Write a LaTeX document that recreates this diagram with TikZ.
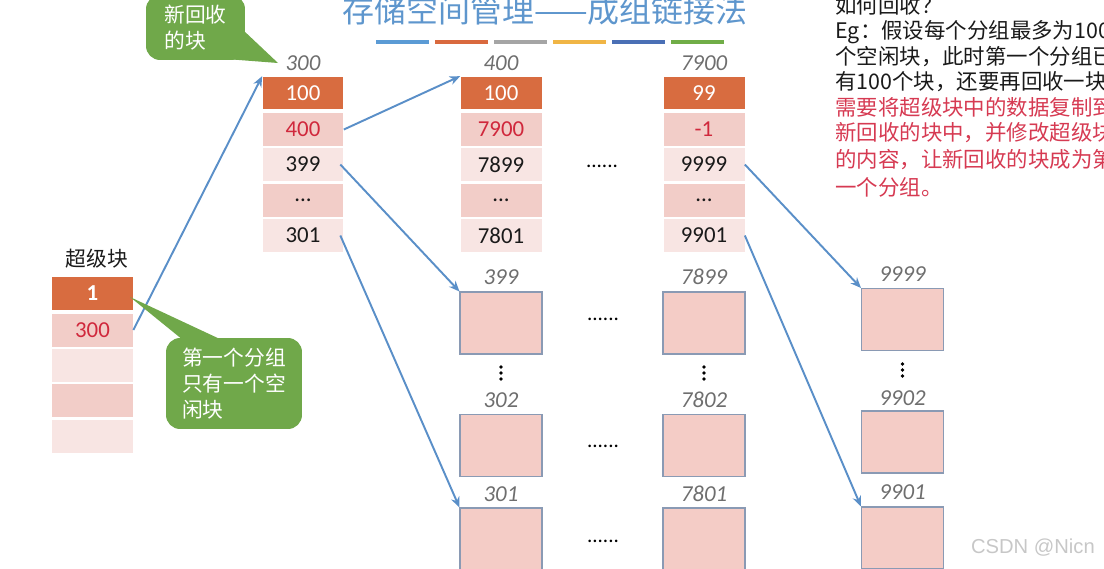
\documentclass[tikz,border=0pt]{standalone}
\usepackage{fontspec}
\setmainfont{Carlito}
\newfontfamily\cjk{Noto Sans CJK SC}
\newfontfamily\wmfont{Liberation Sans}
\usetikzlibrary{arrows.meta}

\definecolor{hdorange}{HTML}{D86C40}
\definecolor{cellpink}{HTML}{F2CDC8}
\definecolor{celllight}{HTML}{F8E5E3}
\definecolor{boxpink}{HTML}{F4CCC6}
\definecolor{boxline}{HTML}{8A9AB4}
\definecolor{ptrblue}{HTML}{5A8FC8}
\definecolor{tipgreen}{HTML}{70A84A}
\definecolor{titleblue}{HTML}{5E96CD}
\definecolor{numred}{HTML}{D0283C}
\definecolor{textred}{HTML}{D63A52}
\definecolor{lblgray}{HTML}{6E6E6E}
\definecolor{textblack}{HTML}{1A1A1A}

\tikzset{
  cell/.style={minimum width=1.62cm, minimum height=0.66cm, inner sep=0pt,
    text=textblack, font=\fontsize{13}{15}\selectfont},
  headcell/.style={cell, fill=hdorange, text=white},
  pinkcell/.style={cell, fill=cellpink},
  lightcell/.style={cell, fill=celllight},
  blkbox/.style={draw=boxline, fill=boxpink, line width=0.6pt,
    minimum width=1.64cm, minimum height=1.24cm, inner sep=0pt},
  blklabel/.style={font=\fontsize{13}{15}\selectfont\itshape, text=lblgray},
  ptr/.style={draw=ptrblue, line width=1.1pt, -{Stealth[length=6pt,width=5pt]}},
  bubble/.style={fill=tipgreen, rounded corners=8pt, text=white, inner sep=0pt,
    font=\cjk\fontsize{11.8}{14.7}\selectfont, align=left},
  note/.style={anchor=west, inner sep=0pt, font=\cjk\fontsize{12.2}{14}\selectfont},
}

\begin{document}
\begin{tikzpicture}[x=0.02cm,y=-0.02cm]
\useasboundingbox (0,0) rectangle (1104,568);
\clip (0,0) rectangle (1104,568);

% title
\node [text=titleblue, font=\cjk\fontsize{18.2}{21}\selectfont] (title) at (545,10)
	{存储空间管理——成组链接法};
\foreach \c [count=\i from 0] in {5B9BD5,D9693E,A5A5A5,F0B545,4A6FB5,70AD47} {
	\definecolor{segcol}{HTML}{\c}
	\draw [segcol, line width=2.8pt] (376+59*\i,42) -- (429+59*\i,42);
}

% super block
\node [font=\cjk\fontsize{11.8}{14}\selectfont, text=textblack] (sbname) at (97,259) {超级块};
\node [headcell, font=\fontsize{13}{15}\selectfont\bfseries] (sb1) at (92.5,293.5) {1};
\node [pinkcell, text=numred]  (sb2) at (92.5,330) {300};
\node [lightcell]              (sb3) at (92.5,365) {};
\node [pinkcell]               (sb4) at (92.5,400.5) {};
\node [lightcell]              (sb5) at (92.5,436) {};

% group blocks 300, 400, 7900
\node [blklabel] (la) at (303,63) {300};
\node [headcell]              (a1) at (303,93) {100};
\node [pinkcell, text=numred] (a2) at (303,129.5) {400};
\node [lightcell]             (a3) at (303,164.5) {399};
\node [pinkcell]              (a4) at (303,200) {...};
\node [lightcell]             (a5) at (303,235.5) {301};

\node [blklabel] (lb) at (501,63) {400};
\node [headcell]              (b1) at (501,93) {100};
\node [pinkcell, text=numred] (b2) at (501,129.5) {7900};
\node [lightcell]             (b3) at (501,164.5) {7899};
\node [pinkcell]              (b4) at (501,200) {...};
\node [lightcell]             (b5) at (501,235.5) {7801};

\node [blklabel] (lc) at (704,63) {7900};
\node [headcell]              (c1) at (704,93) {99};
\node [pinkcell, text=numred] (c2) at (704,129.5) {-1};
\node [lightcell]             (c3) at (704,164.5) {9999};
\node [pinkcell]              (c4) at (704,200) {...};
\node [lightcell]             (c5) at (704,235.5) {9901};

\node [font=\fontsize{12}{14}\selectfont] (dotsab) at (602,166) {......};

% free blocks
\node [blklabel] (lp399) at (501,277) {399};
\node [blkbox]   (p399)  at (501,323) {};
\node [blklabel] (lp302) at (501,400) {302};
\node [blkbox]   (p302)  at (501,445.5) {};
\node [blklabel] (lp301) at (501,494) {301};
\node [blkbox]   (p301)  at (501,539) {};

\node [blklabel] (lq7899) at (704,277) {7899};
\node [blkbox]   (q7899)  at (704,323) {};
\node [blklabel] (lq7802) at (704,400) {7802};
\node [blkbox]   (q7802)  at (704,445.5) {};
\node [blklabel] (lq7801) at (704,494) {7801};
\node [blkbox]   (q7801)  at (704,539) {};

\node [blklabel] (lr9999) at (902.5,274) {9999};
\node [blkbox]   (r9999)  at (902.5,319.5) {};
\node [blklabel] (lr9902) at (902.5,398) {9902};
\node [blkbox]   (r9902)  at (902.5,442) {};
\node [blklabel] (lr9901) at (902.5,492) {9901};
\node [blkbox]   (r9901)  at (902.5,538) {};

% vertical dots between boxes
\foreach \x/\y in {501/373, 704/373, 902.5/370}
	\foreach \d in {-6,0,6}
		\fill [black] (\x,\y+\d) circle (1.1pt);

\node [font=\fontsize{12}{14}\selectfont] (dots1) at (603,319) {......};
\node [font=\fontsize{12}{14}\selectfont] (dots2) at (603,446) {......};
\node [font=\fontsize{12}{14}\selectfont] (dots3) at (603,541) {......};

% links
\draw [ptr] (sb2.east) -- (a1.north west);
\draw [ptr] (a2.east) -- (b1.north west);
\draw [ptr] ([xshift=-2pt]a3.east) -- (p399.north west);
\draw [ptr] ([xshift=-2pt]a5.east) -- (p301.north west);
\draw [ptr] (c3.east) -- (r9999.north west);
\draw [ptr] (c5.east) -- (r9901.north west);

% callouts
\node [bubble, minimum width=1.98cm, minimum height=1.3cm] (bubnew) at (195.5,27.5)
	{新回收\\的块};
\fill [tipgreen] (243,30) -- (226,59) -- (278,63) -- cycle;
\node [bubble, minimum width=2.72cm, minimum height=1.82cm] (bubfirst) at (234,383.5)
	{第一个分组\\只有一个空\\闲块};
\fill [tipgreen] (183,340) -- (222,340) -- (130,297) -- cycle;

% explanation
\node [note, text=textblack] (n1) at (835,5)   {如何回收？};
\node [note, text=textblack] (n2) at (835,32)  {Eg：假设每个分组最多为100};
\node [note, text=textblack] (n3) at (835,57)  {个空闲块，此时第一个分组已};
\node [note, text=textblack] (n4) at (835,82)  {有100个块，还要再回收一块};
\node [note, text=textred]   (n5) at (835,107) {需要将超级块中的数据复制到};
\node [note, text=textred]   (n6) at (835,133) {新回收的块中，并修改超级块};
\node [note, text=textred]   (n7) at (835,160) {的内容，让新回收的块成为第};
\node [note, text=textred]   (n8) at (835,187) {一个分组。};

\node [anchor=east, text=black!22, font=\wmfont\fontsize{11.5}{14}\selectfont]
	(wm) at (1101,548) {CSDN @Nicn};
\end{tikzpicture}
\end{document}
